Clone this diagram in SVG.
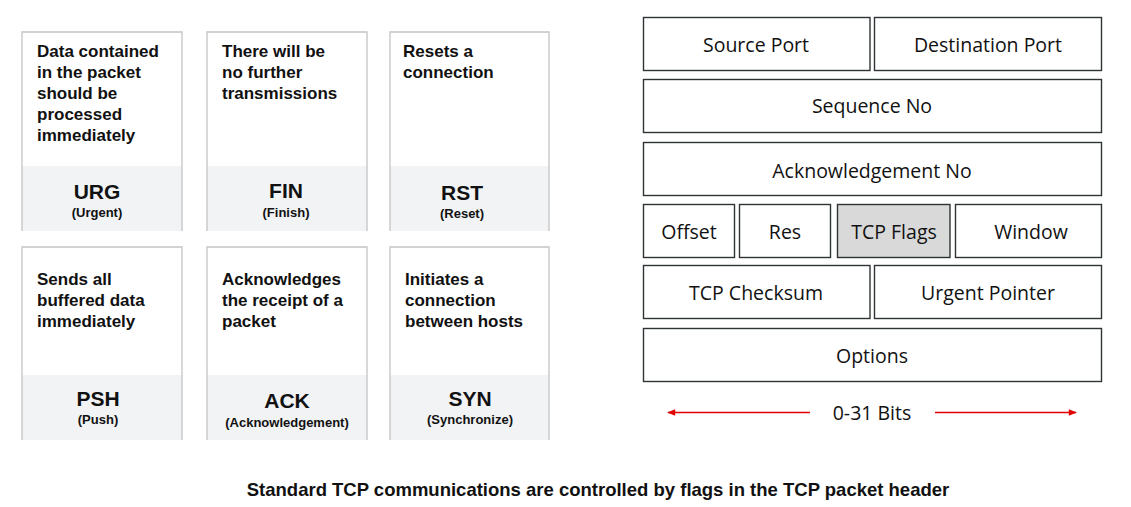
<svg xmlns="http://www.w3.org/2000/svg" width="1131" height="507" viewBox="0 0 1131 507">
<defs>
<style>
.card{fill:#ffffff;stroke:none}
.foot{fill:#f2f3f5}
.edge{stroke:#c4c4c4;stroke-width:1.3;fill:none}
.desc{font-family:"Liberation Sans",Arial,sans-serif;font-weight:bold;font-size:17px;fill:#111}
.flag{font-family:"Liberation Sans",Arial,sans-serif;font-weight:bold;font-size:21px;fill:#111;text-anchor:middle}
.sub{font-family:"Liberation Sans",Arial,sans-serif;font-weight:bold;font-size:13px;fill:#111;text-anchor:middle}
.fld{fill:#ffffff;stroke:#2e3436;stroke-width:1.4}
.fldg{fill:#d9d9d9;stroke:#2e3436;stroke-width:1.4}
.ft{font-family:"Open Sans","Noto Sans",sans-serif;font-size:19.5px;fill:#111;text-anchor:middle;dominant-baseline:central}
.title{font-family:"Liberation Sans",Arial,sans-serif;font-weight:bold;font-size:18.5px;fill:#111;text-anchor:middle}
.red{stroke:#e00000;stroke-width:1.6;fill:none}
</style>
<marker id="ah" viewBox="0 0 10 10" refX="9" refY="5" markerWidth="9" markerHeight="8" orient="auto-start-reverse" markerUnits="userSpaceOnUse">
<path d="M0,1 L10,5 L0,9 z" fill="#e00000"/>
</marker>
</defs>
<rect width="1131" height="507" fill="#ffffff"/>

<!-- Flag cards -->
<g id="card-urg">
<rect class="foot" x="22" y="166" width="160" height="65"/>
<path class="edge" d="M22,231 V32 H182 V231"/>
<text class="desc" x="37" y="57">Data contained<tspan x="37" dy="21">in the packet</tspan><tspan x="37" dy="21">should be</tspan><tspan x="37" dy="21">processed</tspan><tspan x="37" dy="21">immediately</tspan></text>
<text class="flag" x="97" y="199">URG</text>
<text class="sub" x="97" y="217">(Urgent)</text>
</g>
<g id="card-fin">
<rect class="foot" x="207" y="166" width="160" height="65"/>
<path class="edge" d="M207,231 V32 H367 V231"/>
<text class="desc" x="222" y="57">There will be<tspan x="222" dy="21">no further</tspan><tspan x="222" dy="21">transmissions</tspan></text>
<text class="flag" x="286" y="198">FIN</text>
<text class="sub" x="286" y="217">(Finish)</text>
</g>
<g id="card-rst">
<rect class="foot" x="390" y="166" width="159" height="65"/>
<path class="edge" d="M390,231 V32 H549 V231"/>
<text class="desc" x="403" y="57">Resets a<tspan x="403" dy="21">connection</tspan></text>
<text class="flag" x="462" y="200">RST</text>
<text class="sub" x="462" y="218">(Reset)</text>
</g>
<g id="card-psh">
<rect class="foot" x="22" y="375" width="160" height="65"/>
<path class="edge" d="M22,440 V247 H182 V440"/>
<text class="desc" x="37" y="285">Sends all<tspan x="37" dy="21">buffered data</tspan><tspan x="37" dy="21">immediately</tspan></text>
<text class="flag" x="98" y="406">PSH</text>
<text class="sub" x="98" y="424">(Push)</text>
</g>
<g id="card-ack">
<rect class="foot" x="207" y="375" width="160" height="65"/>
<path class="edge" d="M207,440 V247 H367 V440"/>
<text class="desc" x="222" y="285">Acknowledges<tspan x="222" dy="21">the receipt of a</tspan><tspan x="222" dy="21">packet</tspan></text>
<text class="flag" x="287" y="408">ACK</text>
<text class="sub" x="287" y="427">(Acknowledgement)</text>
</g>
<g id="card-syn">
<rect class="foot" x="390" y="375" width="159" height="65"/>
<path class="edge" d="M390,440 V247 H549 V440"/>
<text class="desc" x="405" y="285">Initiates a<tspan x="405" dy="21">connection</tspan><tspan x="405" dy="21">between hosts</tspan></text>
<text class="flag" x="470" y="406">SYN</text>
<text class="sub" x="470" y="424">(Synchronize)</text>
</g>

<!-- TCP header fields -->
<g id="f-srcport"><rect class="fld" x="643.5" y="17.5" width="226.5" height="53"/><text class="ft" x="756" y="44">Source Port</text></g>
<g id="f-dstport"><rect class="fld" x="874.5" y="17.5" width="227" height="53"/><text class="ft" x="988" y="44">Destination Port</text></g>
<g id="f-seq"><rect class="fld" x="643.5" y="79.5" width="458" height="53"/><text class="ft" x="872" y="105">Sequence No</text></g>
<g id="f-ack"><rect class="fld" x="643.5" y="142.5" width="458" height="53"/><text class="ft" x="872" y="170">Acknowledgement No</text></g>
<g id="f-offset"><rect class="fld" x="643.5" y="204.5" width="91" height="53"/><text class="ft" x="689" y="231">Offset</text></g>
<g id="f-res"><rect class="fld" x="739.5" y="204.5" width="91" height="53"/><text class="ft" x="785" y="231">Res</text></g>
<g id="f-flags"><rect class="fldg" x="837.5" y="204.5" width="112.5" height="53"/><text class="ft" x="894" y="231">TCP Flags</text></g>
<g id="f-window"><rect class="fld" x="955.5" y="204.5" width="146" height="53"/><text class="ft" x="1031" y="231">Window</text></g>
<g id="f-checksum"><rect class="fld" x="643.5" y="265.5" width="226.5" height="53"/><text class="ft" x="756" y="292">TCP Checksum</text></g>
<g id="f-urgptr"><rect class="fld" x="874.5" y="265.5" width="227" height="53"/><text class="ft" x="988" y="292">Urgent Pointer</text></g>
<g id="f-options"><rect class="fld" x="643.5" y="328.5" width="458" height="53"/><text class="ft" x="872" y="355">Options</text></g>

<g id="connectors">
<line class="red" x1="810" y1="412.5" x2="668" y2="412.5" marker-end="url(#ah)"/>
<line class="red" x1="935" y1="412.5" x2="1076" y2="412.5" marker-end="url(#ah)"/>
</g>
<text class="ft" x="872" y="412">0-31 Bits</text>

<text class="title" x="598" y="496">Standard TCP communications are controlled by flags in the TCP packet header</text>
</svg>
